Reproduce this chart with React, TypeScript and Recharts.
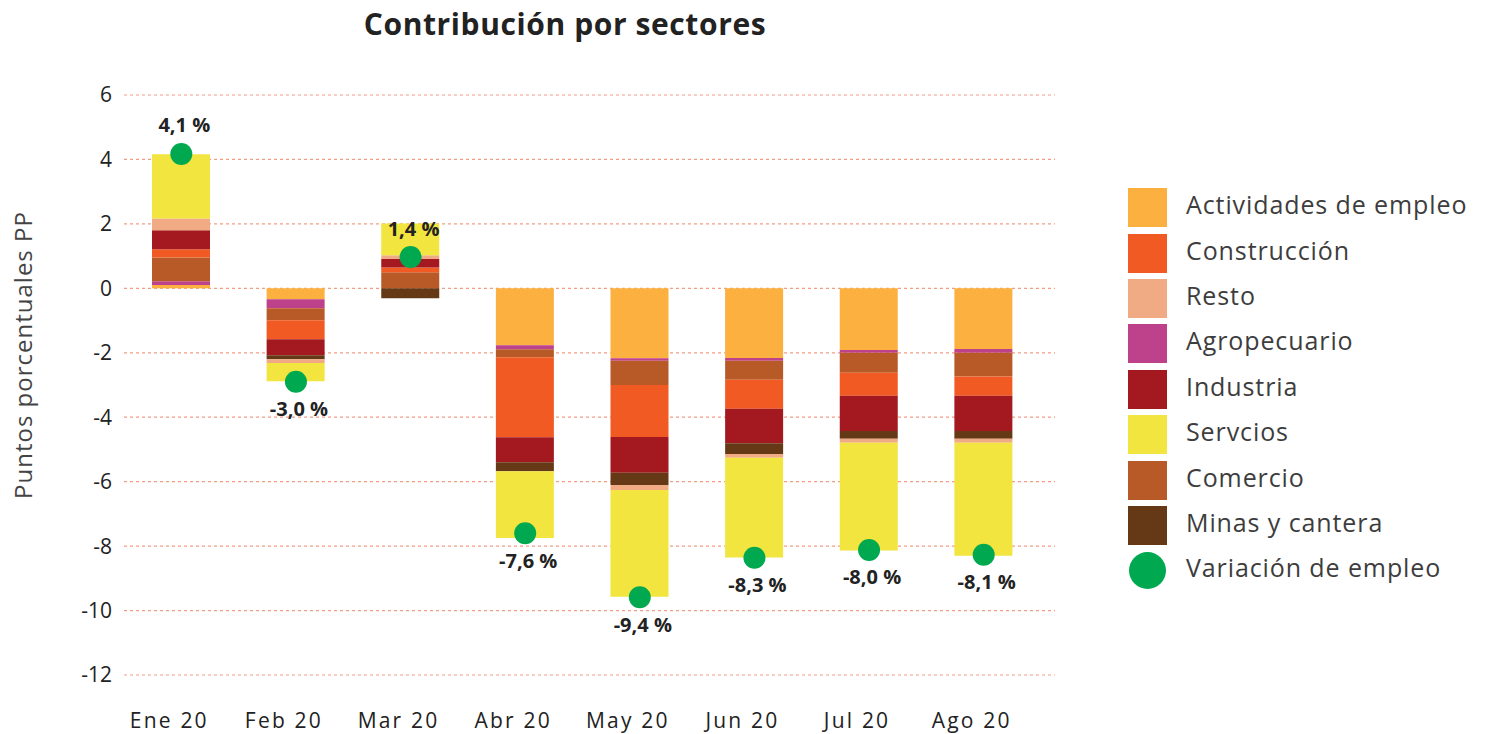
import React from 'react';
import { ComposedChart, Bar, Line, XAxis, YAxis, CartesianGrid, Legend, LabelList } from 'recharts';

const categories = ['Ene 20', 'Feb 20', 'Mar 20', 'Abr 20', 'May 20', 'Jun 20', 'Jul 20', 'Ago 20'];
const actividades = [0.10, -0.34, 0, -1.77, -2.17, -2.16, -1.91, -1.88];
const agropecuario = [0.12, -0.28, 0, -0.12, -0.08, -0.09, -0.09, -0.12];
const comercio = [0.74, -0.37, 0.50, -0.25, -0.75, -0.59, -0.62, -0.74];
const construccion = [0.25, -0.59, 0.15, -2.48, -1.61, -0.90, -0.71, -0.59];
const industria = [0.59, -0.50, 0.26, -0.78, -1.11, -1.07, -1.10, -1.10];
const minas = [0, -0.12, -0.31, -0.28, -0.38, -0.33, -0.24, -0.24];
const resto = [0.37, -0.12, 0.12, 0, -0.16, -0.12, -0.12, -0.12];
const servicios = [1.99, -0.56, 0.98, -2.07, -3.31, -3.09, -3.35, -3.51];
const empleo = [4.17, -2.9, 0.97, -7.6, -9.59, -8.36, -8.12, -8.27];
const empleoLabels = ['4,1 %', '-3,0 %', '1,4 %', '-7,6 %', '-9,4 %', '-8,3 %', '-8,0 %', '-8,1 %'];
const yTicks = [6, 4, 2, 0, -2, -4, -6, -8, -10, -12];

const series = [
  { key: 'actividades', name: 'Actividades de empleo', color: '#FBB03F', values: actividades },
  { key: 'agropecuario', name: 'Agropecuario', color: '#BE418C', values: agropecuario },
  { key: 'comercio', name: 'Comercio', color: '#B85A28', values: comercio },
  { key: 'construccion', name: 'Construcción', color: '#F15A22', values: construccion },
  { key: 'industria', name: 'Industria', color: '#A3191F', values: industria },
  { key: 'minas', name: 'Minas y cantera', color: '#663916', values: minas },
  { key: 'resto', name: 'Resto', color: '#F0AB84', values: resto },
  { key: 'servicios', name: 'Servcios', color: '#F2E53F', values: servicios },
];
const legendOrder = ['actividades', 'construccion', 'resto', 'agropecuario', 'industria', 'servicios', 'comercio', 'minas'];
const DOT_COLOR = '#00A94F';

const data = categories.map((c, i) => {
  const row: any = { name: c, empleo: empleo[i], label: empleoLabels[i] };
  series.forEach((s) => { row[s.key] = s.values[i]; });
  return row;
});

const FONT = '"Open Sans", sans-serif';

const legendText: React.CSSProperties = {
  fontSize: 25, color: '#3d3d3d', letterSpacing: 0.9, whiteSpace: 'nowrap', lineHeight: 1,
  position: 'relative', top: -3,
};
const ROW_H = 45.4;

const renderLegend = () => (
  <div style={{ fontFamily: FONT, position: 'absolute', left: 0, top: 0 }}>
    {legendOrder.map((k) => {
      const s = series.find((x) => x.key === k)!;
      return (
        <div key={k} style={{ display: 'flex', alignItems: 'center', height: ROW_H }}>
          <div style={{ width: 39, height: 39, background: s.color, flex: 'none' }} />
          <span style={{ marginLeft: 19, ...legendText }}>{s.name}</span>
        </div>
      );
    })}
    <div style={{ display: 'flex', alignItems: 'center', height: ROW_H }}>
      <div style={{ width: 37, height: 37, borderRadius: '50%', background: DOT_COLOR, marginLeft: 1, flex: 'none' }} />
      <span style={{ marginLeft: 20, ...legendText }}>Variación de empleo</span>
    </div>
  </div>
);

const DotLabel = (props: any) => {
  const { x, y, index } = props;
  const v = empleo[index];
  const dy = v > 0 ? -29 : 27;
  return (
    <text x={x + 3} y={y + dy} textAnchor="middle" dominantBaseline="central" fontSize={20} fontWeight={700} fill="#222" fontFamily={FONT}>
      {empleoLabels[index]}
    </text>
  );
};

export default function App() {
  return (
    <div style={{ position: 'absolute', left: 0, top: 0, width: 1486, height: 734, background: '#fff' }}>
      <div style={{ position: 'absolute', left: 0, top: 3, width: 1130, textAlign: 'center', fontFamily: FONT, fontWeight: 700, fontSize: 30, letterSpacing: 0.6, color: '#222' }}>
        Contribución por sectores
      </div>
      <div style={{ position: 'absolute', left: 22, top: 355, width: 0, height: 0 }}>
        <div style={{ position: 'absolute', left: 0, top: 0, transform: 'translate(-50%, -50%) rotate(-90deg)', whiteSpace: 'nowrap', fontFamily: FONT, fontSize: 24, letterSpacing: 1, color: '#444' }}>
          Puntos porcentuales PP
        </div>
      </div>
      <ComposedChart
        width={1486}
        height={734}
        data={data}
        stackOffset="sign"
        margin={{ top: 95, right: 431, bottom: 0, left: 0 }}
        barSize={58}
      >
        <CartesianGrid vertical={false} stroke="#F39C84" strokeDasharray="3 3" strokeWidth={1.2} />
        <XAxis
          dataKey="name"
          axisLine={false}
          tickLine={false}
          tickSize={0}
          tickMargin={38}
          height={59}
          padding={{ left: 0, right: 14 }}
          tick={{ fontSize: 21, fill: '#222', fontFamily: FONT, letterSpacing: 2.2, dx: -12 }}
        />
        <YAxis
          domain={[-12, 6]}
          ticks={yTicks}
          interval={0}
          width={124}
          axisLine={false}
          tickLine={false}
          tickSize={0}
          tickMargin={12}
          tick={{ fontSize: 21, fill: '#222', fontFamily: FONT }}
        />
        {series.map((s) => (
          <Bar key={s.key} dataKey={s.key} name={s.name} stackId="a" fill={s.color} isAnimationActive={false} />
        ))}
        <Line
          dataKey="empleo"
          name="Variación de empleo"
          stroke="none"
          dot={{ r: 11, fill: DOT_COLOR, stroke: 'none' }}
          activeDot={false}
          isAnimationActive={false}
        >
          <LabelList dataKey="label" content={<DotLabel />} />
        </Line>
        <Legend
          content={renderLegend}
          wrapperStyle={{ position: 'absolute', left: 1128, top: 185, bottom: 'auto', width: 0, height: 0, overflow: 'visible' }}
        />
      </ComposedChart>
    </div>
  );
}
